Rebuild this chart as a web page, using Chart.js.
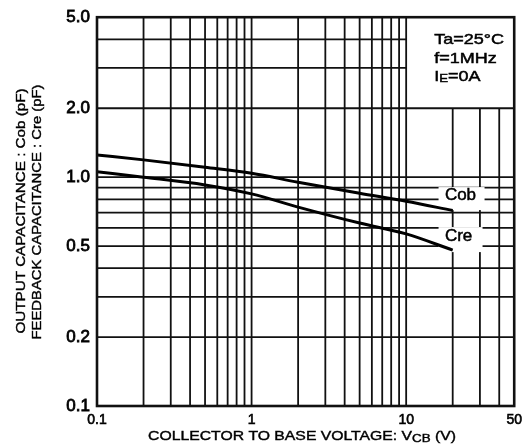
<!DOCTYPE html>
<html>
<head>
<meta charset="utf-8">
<script src="https://cdn.jsdelivr.net/npm/chart.js@4/dist/chart.umd.min.js"></script>
<style>
  html, body { margin: 0; padding: 0; background: #fff; }
  #wrap { width: 528px; height: 447px; position: relative; }
</style>
</head>
<body>
<div id="wrap"><canvas id="capChart"></canvas></div>
<script>
// ==== DATA ====
const vcb = [0.1, 0.2, 0.5, 1, 2, 5, 10, 20];
const cobValues = [1.25, 1.19, 1.105, 1.04, 0.95, 0.85, 0.785, 0.715];
const creValues = [1.055, 1.0, 0.925, 0.845, 0.74, 0.63, 0.565, 0.48];

const xGrid = [0.1, 0.2, 0.3, 0.4, 0.5, 0.6, 0.7, 0.8, 0.9, 1, 2, 3, 4, 5, 6, 7, 8, 9, 10, 20, 30, 40, 50];
const yGrid = [0.1, 0.2, 0.3, 0.4, 0.5, 0.6, 0.7, 0.8, 0.9, 1, 2, 3, 4, 5];
const xTickLabels = { 0.1: '0.1', 1: '1', 10: '10', 50: '50' };
const yTickLabels = { 0.1: '0.1', 0.2: '0.2', 0.5: '0.5', 1: '1.0', 2: '2.0', 5: '5.0' };

const conditions = ['Ta=25°C', 'f=1MHz', 'I|E|=0A'];

const FONT = '"Liberation Sans", Arial, sans-serif';
const INK = '#111';

function toPoints(xs, ys) {
  return xs.map((x, i) => ({ x: x, y: ys[i] }));
}

// fill + thin stroke so the lettering reads a bit heavier
function heavyText(ctx, text, x, y) {
  ctx.fillText(text, x, y);
  ctx.strokeText(text, x, y);
}

// draw a string, squeezing it to a given width
function fitText(ctx, text, cx, cy, width) {
  const w = ctx.measureText(text).width;
  ctx.save();
  ctx.translate(cx, cy);
  ctx.scale(width / w, 1);
  heavyText(ctx, text, 0, 0);
  ctx.restore();
}

// ==== GRID + FRAME ====
const gridPlugin = {
  id: 'logGrid',
  beforeDatasetsDraw(chart) {
    const { ctx, chartArea: a, scales: { x, y } } = chart;
    const boxLeft = x.getPixelForValue(10);
    const boxBottom = y.getPixelForValue(2);
    ctx.save();
    ctx.strokeStyle = INK;
    ctx.lineWidth = 1.8;
    xGrid.forEach(v => {
      if (v === 0.1 || v === 50) return;
      const px = x.getPixelForValue(v);
      const top = v > 10 ? boxBottom : a.top;
      ctx.beginPath(); ctx.moveTo(px, top); ctx.lineTo(px, a.bottom); ctx.stroke();
    });
    yGrid.forEach(v => {
      if (v === 0.1 || v === 5) return;
      const py = y.getPixelForValue(v);
      const right = v > 2 ? boxLeft : a.right;
      ctx.beginPath(); ctx.moveTo(a.left, py); ctx.lineTo(right, py); ctx.stroke();
    });

    // white patches behind the curve names
    ctx.fillStyle = '#fff';
    ctx.fillRect(x.getPixelForValue(16.2), y.getPixelForValue(0.905), 46, 23);
    ctx.fillRect(x.getPixelForValue(16.2), y.getPixelForValue(0.605), 44, 25);
    ctx.restore();
  },
  afterDatasetsDraw(chart) {
    const { ctx, chartArea: a, scales: { x, y } } = chart;
    ctx.save();
    ctx.strokeStyle = INK;
    ctx.lineWidth = 2.6;
    ctx.strokeRect(a.left, a.top, a.right - a.left, a.bottom - a.top);

    // curve names
    ctx.fillStyle = '#000';
    ctx.strokeStyle = '#000';
    ctx.lineWidth = 0.5;
    ctx.font = '17px ' + FONT;
    ctx.textBaseline = 'middle';
    ctx.textAlign = 'left';
    heavyText(ctx, 'Cob', x.getPixelForValue(17.8), y.getPixelForValue(0.83));
    heavyText(ctx, 'Cre', x.getPixelForValue(17.8), y.getPixelForValue(0.553));

    // measurement conditions, stretched a little like the printed block
    const left = x.getPixelForValue(10) + 28;
    conditions.forEach((line, i) => {
      const cy = a.top + 23 + i * 18.5;
      const parts = line.split('|');
      ctx.save();
      ctx.translate(left, cy);
      ctx.scale(1.2, 1);
      let cx = 0;
      parts.forEach((p, j) => {
        if (j === 1) {
          ctx.font = '11px ' + FONT;
          heavyText(ctx, p, cx, 2);
        } else {
          ctx.font = '15px ' + FONT;
          heavyText(ctx, p, cx, 0);
        }
        cx += ctx.measureText(p).width;
      });
      ctx.restore();
    });
    ctx.restore();
  },
  afterDraw(chart) {
    const { ctx } = chart;
    ctx.save();
    ctx.fillStyle = '#000';
    ctx.strokeStyle = '#000';
    ctx.lineWidth = 0.4;
    ctx.textBaseline = 'middle';
    ctx.textAlign = 'center';

    // y axis title, two lines
    ctx.save();
    ctx.translate(21, 211);
    ctx.rotate(-Math.PI / 2);
    ctx.font = '13px ' + FONT;
    fitText(ctx, 'OUTPUT CAPACITANCE : Cob (pF)', 0, 0, 245);
    ctx.restore();
    ctx.save();
    ctx.translate(37.5, 212);
    ctx.rotate(-Math.PI / 2);
    ctx.font = '13px ' + FONT;
    fitText(ctx, 'FEEDBACK CAPACITANCE : Cre (pF)', 0, 0, 255);
    ctx.restore();

    // x axis title with subscript
    ctx.textAlign = 'left';
    const main = 'COLLECTOR TO BASE VOLTAGE: V';
    const sub = 'CB';
    const tail = ' (V)';
    ctx.font = '13px ' + FONT;
    const wMain = ctx.measureText(main).width;
    const wTail = ctx.measureText(tail).width;
    ctx.font = '11px ' + FONT;
    const wSub = ctx.measureText(sub).width;
    const total = wMain + wSub + wTail;
    ctx.translate(148, 436);
    ctx.scale(308 / total, 1);
    ctx.font = '13px ' + FONT;
    heavyText(ctx, main, 0, 0);
    ctx.font = '11px ' + FONT;
    heavyText(ctx, sub, wMain, 3);
    ctx.font = '13px ' + FONT;
    heavyText(ctx, tail, wMain + wSub, 0);
    ctx.restore();
  }
};

// ==== CHART ====
const ctx = document.getElementById('capChart').getContext('2d');
const capChart = new Chart(ctx, {
  type: 'scatter',
  data: {
    datasets: [
      { label: 'Cob', data: toPoints(vcb, cobValues) },
      { label: 'Cre', data: toPoints(vcb, creValues) }
    ]
  },
  options: {
    responsive: true,
    maintainAspectRatio: false,
    animation: false,
    showLine: true,
    layout: { padding: { top: 10, right: 7, left: 0, bottom: 0 } },
    elements: {
      point: { radius: 0 },
      line: { borderColor: '#000', borderWidth: 3, cubicInterpolationMode: 'monotone', fill: false }
    },
    plugins: { legend: { display: false }, tooltip: { enabled: false } },
    scales: {
      x: {
        type: 'logarithmic',
        min: 0.1,
        max: 50,
        grid: { display: false, drawTicks: false },
        border: { display: false },
        afterBuildTicks: s => { s.ticks = xGrid.map(v => ({ value: v })); },
        afterFit: s => { s.height = 41; },
        ticks: {
          autoSkip: false,
          maxRotation: 0,
          padding: 6,
          color: '#000',
          textStrokeColor: '#000',
          textStrokeWidth: 0.6,
          font: { family: FONT, size: 14 },
          callback: v => xTickLabels[v] || ''
        }
      },
      y: {
        type: 'logarithmic',
        min: 0.1,
        max: 5,
        grid: { display: false, drawTicks: false },
        border: { display: false },
        afterBuildTicks: s => { s.ticks = yGrid.map(v => ({ value: v })); },
        afterFit: s => { s.width = 97; },
        ticks: {
          autoSkip: false,
          padding: 7,
          color: '#000',
          textStrokeColor: '#000',
          textStrokeWidth: 0.8,
          font: { family: FONT, size: 17 },
          callback: v => yTickLabels[v] || ''
        }
      }
    }
  },
  plugins: [gridPlugin]
});
</script>
</body>
</html>
